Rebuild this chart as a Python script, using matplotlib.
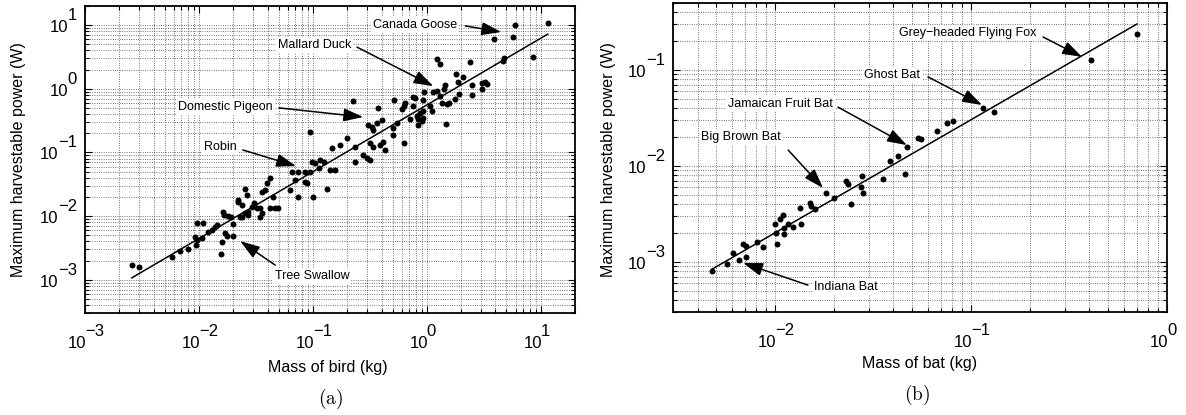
import numpy as np
import matplotlib.pyplot as plt
from matplotlib import ticker, transforms

plt.rcParams['font.family'] = ['Liberation Sans', 'DejaVu Sans']
plt.rcParams['mathtext.fontset'] = 'cm'

# (a) birds: mass (kg) and maximum harvestable power (W)
bird_mass = [2.57e-3, 2.98e-3, 5.77e-3, 6.82e-3, 8.07e-3, 9.38e-3, 9.57e-3, 0.0109,
             9.25e-3, 9.57e-3, 0.0106, 0.0121, 0.0129, 0.0138, 0.0143, 0.0156,
             0.0158, 0.0169, 0.0175, 0.0164, 0.0167, 0.0181, 0.0191, 0.0198,
             0.0200, 0.0219, 0.0222, 0.0230, 0.0238, 0.0251, 0.0266, 0.0272,
             0.0291, 0.227, 0.376, 0.516, 0.0944, 0.307, 0.329, 0.340,
             0.364, 0.403, 0.509, 0.546, 0.509, 0.199, 0.173, 0.147,
             0.234, 0.318, 0.340, 0.389, 0.431, 0.416, 0.277, 0.297,
             0.318, 0.234, 0.0977, 0.104, 0.116, 0.124, 0.142, 0.157,
             0.112, 0.0855, 0.0944, 0.0653, 0.0746, 0.0698, 0.0855, 0.0889,
             0.132, 0.0631, 0.101, 0.0746, 0.0421, 0.0394, 0.0356, 0.0380,
             0.0450, 0.0301, 0.0321, 0.0421, 0.0466, 0.0498, 0.0343, 0.0356,
             0.0254, 0.0272, 0.0238, 0.0343, 11.5, 5.96, 5.69, 3.90,
             4.71, 4.65, 8.53, 1.22, 1.31, 2.40, 1.81, 2.07,
             1.89, 2.48, 3.04, 3.21, 3.37, 3.04, 2.48, 1.93,
             1.77, 1.45, 1.40, 1.22, 1.13, 1.31, 1.35, 1.50,
             1.55, 0.946, 0.753, 0.789, 0.933, 1.07, 0.646, 0.624,
             0.762, 0.604, 0.933, 0.873, 0.817, 0.843, 0.904, 0.933,
             0.713, 0.843, 1.48, 0.624, 1.11]
bird_power = [1.69e-3, 1.57e-3, 2.29e-3, 2.81e-3, 3.05e-3, 3.45e-3, 7.66e-3, 7.83e-3,
              4.72e-3, 4.19e-3, 4.55e-3, 5.65e-3, 6.01e-3, 6.78e-3, 7.21e-3, 2.52e-3,
              3.85e-3, 5.33e-3, 4.84e-3, 0.0117, 0.0104, 9.98e-3, 9.73e-3, 7.47e-3,
              4.89e-3, 0.0167, 0.0178, 9.73e-3, 0.0149, 0.0262, 0.0213, 0.0117,
              0.0140, 0.641, 0.493, 0.665, 0.211, 0.269, 0.248, 0.224,
              0.286, 0.323, 0.239, 0.286, 0.187, 0.166, 0.130, 0.116,
              0.123, 0.139, 0.123, 0.130, 0.109, 0.147, 0.0908, 0.0805,
              0.0759, 0.0713, 0.0713, 0.0673, 0.0759, 0.0713, 0.0528, 0.0528,
              0.0561, 0.0497, 0.0497, 0.0497, 0.0497, 0.0367, 0.0345, 0.0326,
              0.0262, 0.0256, 0.0201, 0.0201, 0.0391, 0.0326, 0.0240, 0.0256,
              0.0201, 0.0158, 0.0132, 0.0132, 0.0132, 0.0132, 0.0132, 0.0110,
              0.0110, 0.0104, 9.73e-3, 9.73e-3, 10.9, 9.95, 6.51, 5.99,
              3.08, 2.73, 3.19, 2.90, 2.42, 2.63, 1.69, 1.55,
              1.28, 1.13, 1.22, 1.28, 1.17, 0.98, 0.789, 0.818,
              0.697, 1.13, 1.00, 0.922, 0.889, 0.769, 0.604, 0.569,
              0.604, 0.889, 0.750, 0.723, 0.665, 0.536, 0.590, 0.536,
              0.536, 0.475, 0.447, 0.411, 0.372, 0.331, 0.311, 0.351,
              0.331, 0.266, 0.276, 0.142, 0.447]

# (b) bats
bat_mass = [4.74e-3, 5.66e-3, 6.07e-3, 6.52e-3, 6.84e-3, 7.05e-3, 7.10e-3, 8.05e-3,
            8.65e-3, 9.91e-3, 0.0106, 0.0109, 0.0101, 0.0102, 0.0110, 0.0111,
            0.0116, 0.0123, 0.0135, 0.0133, 0.0150, 0.0152, 0.0159, 0.0182,
            0.0199, 0.0229, 0.0235, 0.0242, 0.0278, 0.0275, 0.0280, 0.0355,
            0.0386, 0.0423, 0.0460, 0.0468, 0.0537, 0.0555, 0.0671, 0.0755,
            0.0803, 0.115, 0.130, 0.407, 0.700]
bat_power = [8.09e-4, 9.48e-4, 1.24e-3, 1.04e-3, 1.53e-3, 1.47e-3, 1.13e-3, 1.61e-3,
             1.44e-3, 2.48e-3, 2.78e-3, 3.08e-3, 1.99e-3, 1.53e-3, 1.95e-3, 2.24e-3,
             2.48e-3, 2.29e-3, 2.48e-3, 3.61e-3, 4.07e-3, 3.82e-3, 3.53e-3, 5.19e-3,
             4.60e-3, 7.02e-3, 6.49e-3, 3.98e-3, 7.85e-3, 5.98e-3, 5.19e-3, 7.26e-3,
             0.0112, 0.0128, 8.24e-3, 0.0157, 0.0195, 0.0191, 0.0230, 0.0281,
             0.0292, 0.0402, 0.0362, 0.128, 0.239]

# power-law fits P = a * m^b
fit_bird = [0.557, 1.049]
fit_bat = [0.458, 1.178]

# label, text centre (axes fraction), arrow start (axes fraction), arrow tip (data)
bird_notes = [
    ('Canada Goose', (0.673, 0.938), (0.776, 0.935), (4.49, 7.80)),
    ('Mallard Duck', (0.468, 0.873), (0.555, 0.866), (1.14, 1.10)),
    ('Domestic Pigeon', (0.287, 0.671), (0.396, 0.668), (0.276, 0.360)),
    ('Robin', (0.276, 0.541), (0.322, 0.531), (0.0711, 0.0610)),
    ('Tree Swallow', (0.463, 0.120), (0.388, 0.156), (0.0230, 4.04e-3)),
]
bat_notes = [
    ('Grey\u2212headed Flying Fox', (0.597, 0.903), (0.749, 0.890), (0.368, 0.137)),
    ('Ghost Bat', (0.443, 0.767), (0.516, 0.761), (0.1135, 0.0432)),
    ('Jamaican Fruit Bat', (0.217, 0.673), (0.334, 0.663), (0.0469, 0.0165)),
    ('Big Brown Bat', (0.138, 0.566), (0.233, 0.524), (0.0175, 5.89e-3)),
    ('Indiana Bat', (0.350, 0.081), (0.273, 0.087), (6.84e-3, 9.73e-4)),
]

fig = plt.figure(figsize=(11.86, 4.15), dpi=100)
ax1 = fig.add_axes([0.0717, 0.2458, 0.4132, 0.7398])
ax2 = fig.add_axes([0.5675, 0.2482, 0.4165, 0.7446])


def exp_str(e):
    return str(e).replace('-', '\u2212')


def style_axes(ax, xlim, ylim, xdec, ydec):
    ax.set_xscale('log')
    ax.set_yscale('log')
    ax.set_xlim(xlim)
    ax.set_ylim(ylim)
    for axis in (ax.xaxis, ax.yaxis):
        axis.set_major_locator(ticker.LogLocator(base=10, numticks=20))
        axis.set_minor_locator(ticker.LogLocator(base=10, subs=np.arange(2, 10), numticks=60))
        axis.set_major_formatter(ticker.NullFormatter())
        axis.set_minor_formatter(ticker.NullFormatter())
    ax.grid(True, which='both', color='0.15', linestyle=(0, (1, 2)), linewidth=0.55)
    ax.tick_params(which='both', direction='in', top=True, right=True, width=0.8)
    ax.tick_params(which='major', length=5)
    ax.tick_params(which='minor', length=3)
    for s in ax.spines.values():
        s.set_linewidth(1.3)
    # MATLAB-style 10^n tick labels
    xt = transforms.blended_transform_factory(ax.transData, ax.transAxes)
    for e in xdec:
        ax.text(10.0**e, 0, '10', fontsize=12, ha='right', va='baseline',
                transform=transforms.offset_copy(xt, fig, x=1, y=-35, units='dots'))
        ax.text(10.0**e, 0, exp_str(e), fontsize=12, ha='left', va='baseline',
                transform=transforms.offset_copy(xt, fig, x=0, y=-23, units='dots'))
    yt = transforms.blended_transform_factory(ax.transAxes, ax.transData)
    for e in ydec:
        ex = ax.text(0, 10.0**e, exp_str(e), fontsize=12, ha='right', va='baseline',
                     transform=transforms.offset_copy(yt, fig, x=-8, y=5, units='dots'))
        ax.annotate('10', xy=(0, 0), xycoords=ex, xytext=(0, -8.6),
                    textcoords='offset points', ha='right', va='bottom', fontsize=12)


def add_notes(ax, notes):
    for label, txt, start, tip in notes:
        ax.text(txt[0], txt[1], label, transform=ax.transAxes, ha='center', va='center',
                fontsize=9, zorder=4, bbox=dict(fc='white', ec='none', pad=1.5))
        ax.annotate('', xy=tip, xycoords='data', xytext=start, textcoords='axes fraction',
                    arrowprops=dict(arrowstyle='-|>,head_length=0.6,head_width=0.2',
                                    mutation_scale=20, color='k', lw=1.1,
                                    shrinkA=0, shrinkB=0), zorder=5)


# (a)
style_axes(ax1, (1e-3, 20), (3e-4, 20), [-3, -2, -1, 0, 1], [-3, -2, -1, 0, 1])
ax1.plot(bird_mass, bird_power, 'o', color='k', ms=4.3, mew=0, zorder=3)
m = np.logspace(np.log10(min(bird_mass)), np.log10(max(bird_mass)), 50)
ax1.plot(m, fit_bird[0] * m**fit_bird[1], 'k-', lw=1.1, zorder=3)
add_notes(ax1, bird_notes)

# (b)
style_axes(ax2, (3e-3, 1), (3e-4, 0.5), [-2, -1, 0], [-3, -2, -1])
ax2.plot(bat_mass, bat_power, 'o', color='k', ms=4.3, mew=0, zorder=3)
m = np.logspace(np.log10(min(bat_mass)), np.log10(max(bat_mass)), 50)
ax2.plot(m, fit_bat[0] * m**fit_bat[1], 'k-', lw=1.1, zorder=3)
add_notes(ax2, bat_notes)

fig.text(19 / 1186, 0.6145, 'Maximum harvestable power (W)', rotation=90,
         ha='center', va='center', fontsize=11.5)
fig.text(608 / 1186, 0.6145, 'Maximum harvestable power (W)', rotation=90,
         ha='center', va='center', fontsize=11.5)
fig.text(0.2766, 0.1133, 'Mass of bird (kg)', ha='center', va='center', fontsize=11.5)
fig.text(0.7757, 0.1253, 'Mass of bat (kg)', ha='center', va='center', fontsize=11.5)
fig.text(0.279, 0.0386, r'$\mathrm{(a)}$', ha='center', va='center', fontsize=14)
fig.text(0.773, 0.048, r'$\mathrm{(b)}$', ha='center', va='center', fontsize=14)

fig.savefig('out.png', dpi=100)
